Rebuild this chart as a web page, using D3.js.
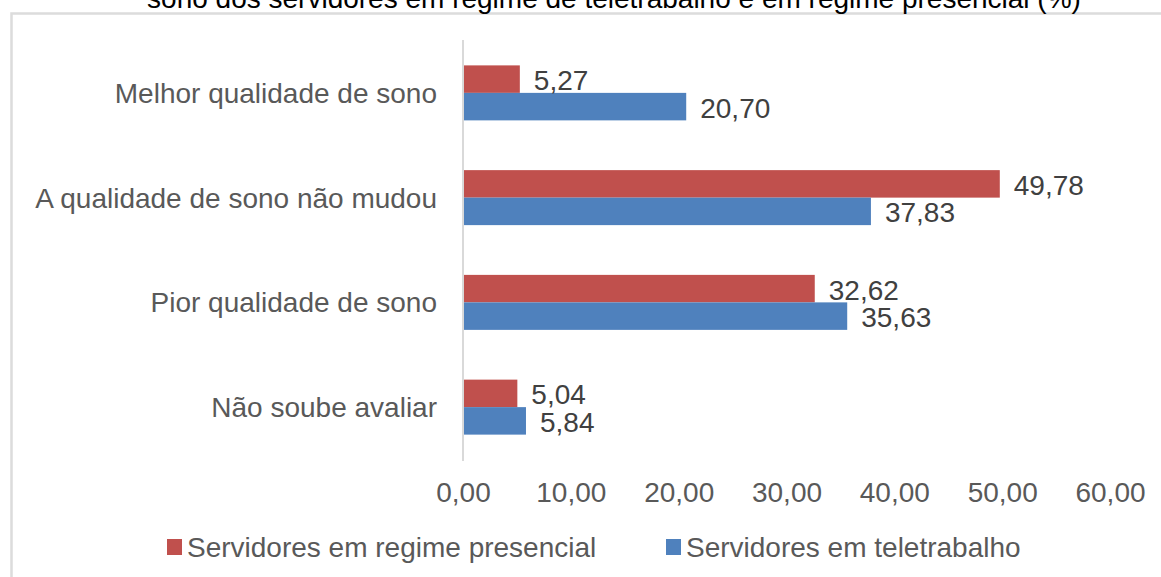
<!DOCTYPE html>
<html>
<head>
<meta charset="utf-8">
<script src="https://cdn.jsdelivr.net/npm/d3@7"></script>
<style>
	body { margin:0; background:#fff; }
	svg text { font-family:"Liberation Sans", Arial, sans-serif; }
</style>
</head>
<body>
<div id="chart-area"></div>
<script>

// data
var categories = ["Melhor qualidade de sono", "A qualidade de sono não mudou", "Pior qualidade de sono", "Não soube avaliar"];
var seriesNames = ["Servidores em regime presencial", "Servidores em teletrabalho"];
var presencial = [5.27, 49.78, 32.62, 5.04];
var teletrabalho = [20.70, 37.83, 35.63, 5.84];
var xTicks = [0, 10, 20, 30, 40, 50, 60];
var colors = ["#C0504D", "#4F81BD"];
var titleText = "sono dos servidores em regime de teletrabalho e em regime presencial (%)";

var W = 1161, H = 577;
var fmt = function(v) { return v.toFixed(2).replace(".", ","); };

var svg = d3.select("#chart-area").append("svg")
	.attr("width", W)
	.attr("height", H);

// frame of the chart object (only top and left are inside the picture)
svg.append("path")
	.attr("d", "M11.5," + H + "V13.5H" + W)
	.attr("fill", "none")
	.attr("stroke", "#dcdcdc")
	.attr("stroke-width", 2.5);

// title (cut by the top edge, as in the source)
svg.append("text")
	.attr("x", 614)
	.attr("y", 8)
	.attr("text-anchor", "middle")
	.style("font-size", "28px")
	.style("fill", "#000")
	.text(titleText);

// scales
var x = d3.scaleLinear().domain([0, 60]).range([463, 1110]);
var y = d3.scaleBand().domain(categories).range([40.5, 459.5]).padding(0);
var groupH = y.bandwidth() * 0.525;
var ySub = d3.scaleBand().domain([0, 1]).range([0, groupH]);

var rows = categories.map(function(c, i) {
	return { cat:c, vals:[presencial[i], teletrabalho[i]] };
});

var g = svg.selectAll(".row")
	.data(rows)
	.enter().append("g")
	.attr("class", "row")
	.attr("transform", function(d) {
		return "translate(0," + (y(d.cat) + (y.bandwidth() - groupH) / 2) + ")";
	});

g.selectAll("rect")
	.data(function(d) { return d.vals; })
	.enter().append("rect")
	.attr("x", x(0))
	.attr("y", function(d, i) { return ySub(i); })
	.attr("width", function(d) { return x(d) - x(0); })
	.attr("height", ySub.bandwidth())
	.style("fill", function(d, i) { return colors[i]; });

// bar labels
g.selectAll(".barlabel")
	.data(function(d) { return d.vals; })
	.enter().append("text")
	.attr("class", "barlabel")
	.attr("x", function(d) { return x(d) + 14; })
	.attr("y", function(d, i) { return ySub(i) + ySub.bandwidth() / 2 + 1; })
	.attr("dy", "0.36em")
	.style("font-size", "28px")
	.style("fill", "#404040")
	.text(fmt);

// category axis
svg.append("line")
	.attr("x1", x(0)).attr("x2", x(0))
	.attr("y1", 40).attr("y2", 461)
	.attr("stroke", "#d9d9d9")
	.attr("stroke-width", 2);

svg.selectAll(".catlabel")
	.data(categories)
	.enter().append("text")
	.attr("class", "catlabel")
	.attr("x", 437)
	.attr("y", function(d) { return y(d) + y.bandwidth() / 2; })
	.attr("dy", "0.36em")
	.attr("text-anchor", "end")
	.style("font-size", "28px")
	.style("fill", "#595959")
	.text(function(d) { return d; });

// value axis
var xAxis = svg.append("g")
	.attr("transform", "translate(0,482)")
	.call(d3.axisBottom(x).tickValues(xTicks).tickSize(0).tickPadding(0).tickFormat(fmt));
xAxis.select(".domain").remove();
xAxis.selectAll("text")
	.attr("dy", "0.71em")
	.style("font-size", "28px")
	.style("font-family", "'Liberation Sans', Arial, sans-serif")
	.style("fill", "#595959");

// legend
var legendX = [167, 666];
var lg = svg.selectAll(".legend")
	.data(seriesNames)
	.enter().append("g")
	.attr("class", "legend")
	.attr("transform", function(d, i) { return "translate(" + legendX[i] + ",547)"; });
lg.append("rect")
	.attr("x", 0).attr("y", -8)
	.attr("width", 15).attr("height", 16)
	.style("fill", function(d, i) { return colors[i]; });
lg.append("text")
	.attr("x", 20)
	.attr("dy", "0.36em")
	.style("font-size", "28px")
	.style("fill", "#595959")
	.text(function(d) { return d; });

</script>
</body>
</html>
